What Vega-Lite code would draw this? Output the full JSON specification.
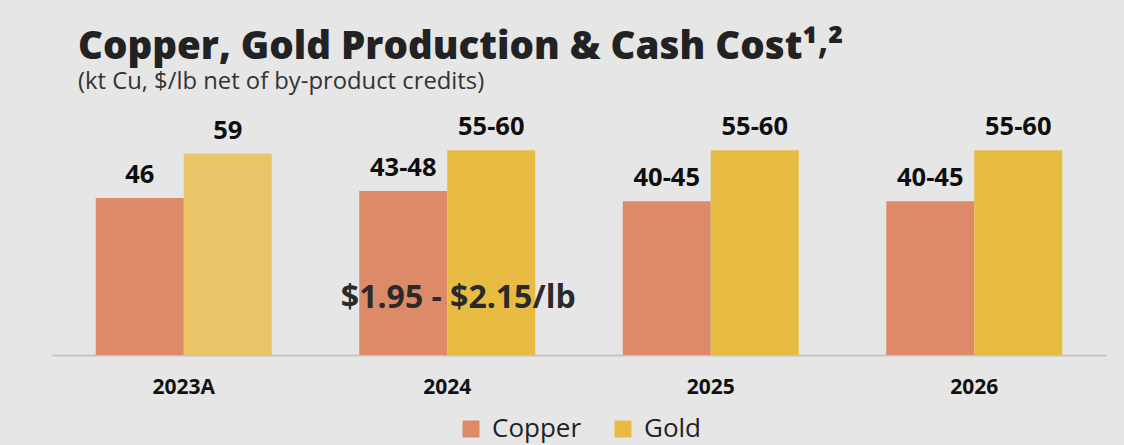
{
  "$schema": "https://vega.github.io/schema/vega-lite/v6.json",
  "width": 1054,
  "height": 239,
  "autosize": {"type": "none"},
  "padding": {"left": 52, "top": 116, "right": 18, "bottom": 90},
  "background": "#e6e6e6",
  "title": {
    "text": "Copper, Gold Production & Cash Cost¹⸴²",
    "subtitle": "(kt Cu, $/lb net of by-product credits)",
    "anchor": "start",
    "frame": "group",
    "dx": 26,
    "offset": 20,
    "font": "Open Sans",
    "fontSize": 38.5,
    "fontWeight": 800,
    "color": "#222222",
    "subtitleFont": "Open Sans",
    "subtitleFontSize": 23.8,
    "subtitleColor": "#333333",
    "subtitlePadding": 3
  },
  "datasets": {
    "bars": [
      {"year": "2023A", "series": "Copper", "value": 46, "label": "46"},
      {"year": "2023A", "series": "Gold", "value": 59, "label": "59"},
      {"year": "2024", "series": "Copper", "value": 48, "label": "43-48"},
      {"year": "2024", "series": "Gold", "value": 60, "label": "55-60"},
      {"year": "2025", "series": "Copper", "value": 45, "label": "40-45"},
      {"year": "2025", "series": "Gold", "value": 60, "label": "55-60"},
      {"year": "2026", "series": "Copper", "value": 45, "label": "40-45"},
      {"year": "2026", "series": "Gold", "value": 60, "label": "55-60"}
    ],
    "note": [
      {"year": "2024", "value": 16.7, "label": "$1.95 - $2.15/lb"}
    ]
  },
  "encoding": {
    "x": {
      "field": "year",
      "type": "nominal",
      "sort": ["2023A", "2024", "2025", "2026"],
      "scale": {"paddingInner": 0.332, "paddingOuter": 0.166},
      "axis": {
        "title": null,
        "labelAngle": 0,
        "labelFont": "Open Sans",
        "labelFontSize": 21,
        "labelFontWeight": "bold",
        "labelColor": "#111111",
        "labelPadding": 21,
        "ticks": false,
        "domainColor": "#c4c4c4",
        "domainWidth": 2
      }
    },
    "y": {
      "field": "value",
      "type": "quantitative",
      "scale": {"domain": [0, 70], "nice": false},
      "axis": null
    }
  },
  "layer": [
    {
      "data": {"name": "bars"},
      "mark": {"type": "bar"},
      "encoding": {
        "xOffset": {"field": "series", "type": "nominal", "scale": {"paddingInner": 0, "paddingOuter": 0}},
        "color": {
          "field": "series",
          "type": "nominal",
          "scale": {"domain": ["Copper", "Gold"], "range": ["#dc8a68", "#e8bc43"]},
          "legend": {
            "title": null,
            "orient": "none",
            "legendX": 406,
            "legendY": 300,
            "padding": 0,
            "direction": "horizontal",
            "symbolType": "square",
            "symbolSize": 289,
            "symbolStrokeWidth": 0,
            "symbolOpacity": 1,
            "labelFont": "Open Sans",
            "labelFontSize": 26,
            "labelColor": "#222222",
            "columnPadding": 28,
            "labelOffset": 8
          }
        },
        "opacity": {
          "condition": {"test": "datum.year === '2023A' && datum.series === 'Gold'", "value": 0.78},
          "value": 1
        }
      }
    },
    {
      "data": {"name": "bars"},
      "mark": {
        "type": "text",
        "baseline": "alphabetic",
        "dy": -15,
        "font": "Open Sans",
        "fontSize": 25.5,
        "fontWeight": "bold",
        "color": "#0e0e0e"
      },
      "encoding": {
        "xOffset": {"field": "series", "type": "nominal"},
        "text": {"field": "label", "type": "nominal"}
      }
    },
    {
      "data": {"name": "note"},
      "mark": {
        "type": "text",
        "baseline": "middle",
        "dx": 11,
        "font": "Open Sans",
        "fontSize": 32,
        "fontWeight": "bold",
        "color": "#2a2a2a"
      },
      "encoding": {
        "text": {"field": "label", "type": "nominal"}
      }
    }
  ],
  "config": {
    "view": {"stroke": null}
  }
}
